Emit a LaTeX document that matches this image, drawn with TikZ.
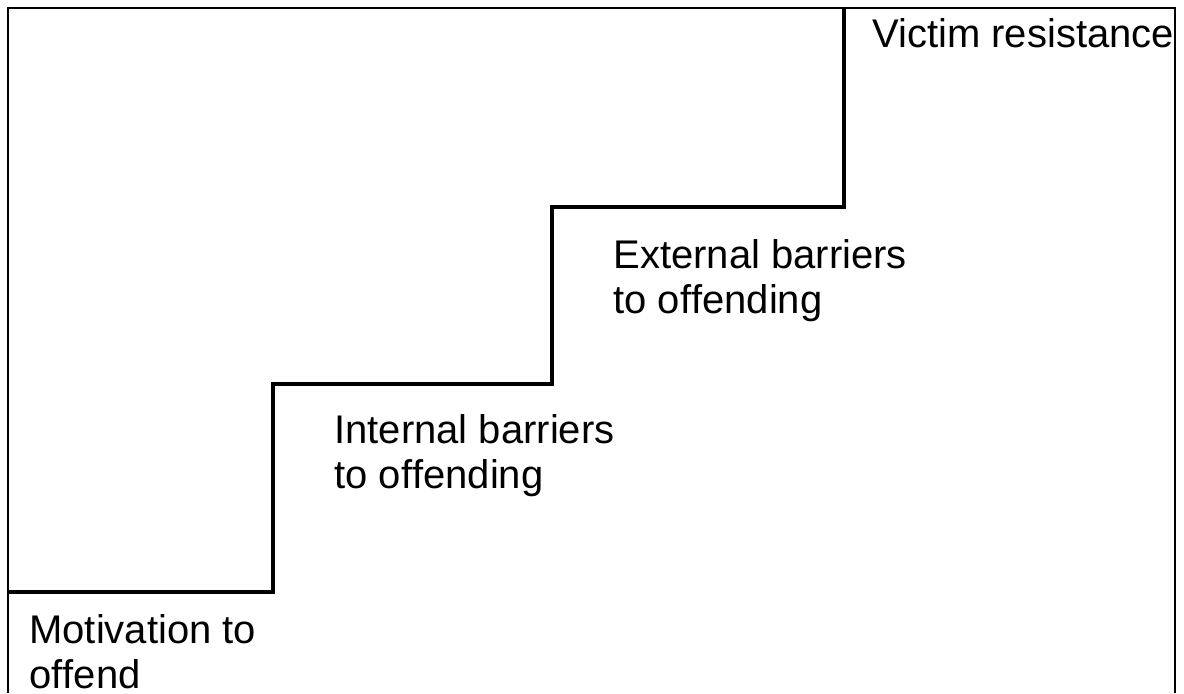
\documentclass[tikz,border=0pt]{standalone}
\usepackage{fontspec}
\setmainfont[Ligatures=NoCommon]{Liberation Sans}
\usepackage{tikz}
\usetikzlibrary{positioning}

\begin{document}
\begin{tikzpicture}[
    x=0.5pt, y=-0.5pt,
    frame/.style={draw=black, line width=0.8pt},
    stair/.style={draw=black, line width=1.6pt},
    stage/.style={anchor=base west, inner sep=0pt, align=left,
                  font=\fontsize{20}{22.5}\selectfont}
]
    \useasboundingbox (0,0) rectangle (1184,693);
    % open frame
    \coordinate (fbl) at (8,693);
    \coordinate (ftl) at (8,8);
    \coordinate (ftr) at (1175,8);
    \coordinate (fbr) at (1175,693);
    \draw[frame] (fbl) -- (ftl) -- (ftr) -- (fbr);
    
    % the steps
    \coordinate (s0) at (8,592);
    \coordinate (s1) at (273,592);
    \coordinate (s2) at (273,384);
    \coordinate (s3) at (552,384);
    \coordinate (s4) at (552,207);
    \coordinate (s5) at (844,207);
    \coordinate (s6) at (844,8);
    \draw[stair] (s0) -- (s1) -- (s2) -- (s3) -- (s4) -- (s5) -- (s6);
    
    % base is the last line of each label
    \node[stage] (motivation) at (29,688) {Motivation to\\of\kern0pt fend};
    \node[stage] (internal) at (334,488) {Internal barriers\\to of\kern0pt fending};
    \node[stage] (external) at (613,313) {External barriers\\to of\kern0pt fending};
    \node[stage] (victim) at (872,47) {Victim resistance};
\end{tikzpicture}
\end{document}
